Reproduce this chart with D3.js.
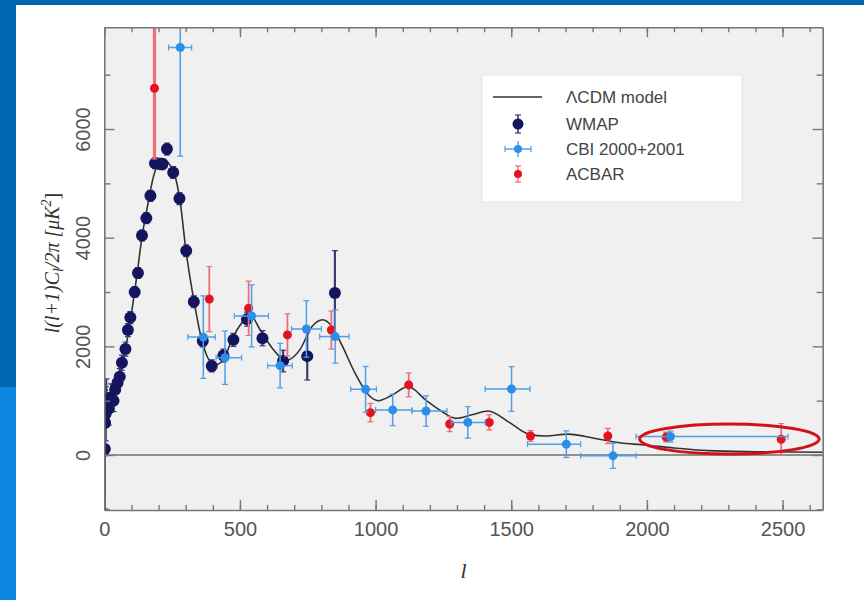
<!DOCTYPE html>
<html lang="en">
    <head>
        <meta charset="utf-8">
        <title>CMB power spectrum</title>
        <script type="text/javascript" src="https://d3js.org/d3.v7.min.js"></script>
        <style>
            body { margin: 0; background: #fff; }
            svg { display: block; }
        </style>
    </head>
    <body>
        <script>
            // ---- data ----
            // LCDM model curve
            const modelL = [2, 10, 20, 40, 60, 80, 100, 120, 140, 160, 180, 200, 220, 240, 260, 280, 300, 330, 360, 390, 410, 440, 470, 510, 540, 575, 620, 670, 720, 765, 805, 840, 875, 925, 975, 1010, 1060, 1120, 1185, 1245, 1295, 1355, 1415, 1490, 1565, 1625, 1710, 1810, 1905, 1980, 2100, 2225, 2400, 2648];
            const modelV = [900, 800, 850, 1100, 1500, 2000, 2600, 3300, 4050, 4600, 5100, 5380, 5450, 5350, 5150, 4650, 3800, 2850, 2100, 1720, 1660, 1760, 2120, 2450, 2560, 2300, 1960, 1740, 1930, 2360, 2490, 2360, 2030, 1500, 1100, 1000, 1100, 1260, 1010, 800, 675, 740, 810, 610, 385, 350, 385, 305, 220, 190, 130, 80, 60, 50];

            // WMAP
            const wmapL = [2, 3, 5, 7, 16, 25, 34, 40, 49, 57, 65, 78, 87, 96, 112, 124, 139, 155, 170, 187, 204, 214, 231, 254, 277, 302, 330, 363, 396, 439, 476, 526, 583, 659, 748, 850];
            const wmapV = [110, 590, 760, 1000, 850, 1060, 1000, 1200, 1330, 1440, 1700, 1950, 2300, 2530, 3000, 3350, 4040, 4360, 4770, 5370, 5360, 5350, 5630, 5200, 4720, 3760, 2820, 2100, 1640, 1830, 2120, 2500, 2150, 1730, 1820, 2980];
            const wmapErr = [1100, 600, 500, 400, 300, 250, 200, 180, 160, 150, 140, 130, 120, 110, 100, 100, 100, 100, 100, 100, 100, 100, 110, 110, 110, 110, 110, 110, 110, 120, 120, 130, 140, 200, 440, 780];

            // CBI 2000+2001
            const cbiL = [280, 365, 445, 543, 648, 745, 851, 963, 1063, 1186, 1340, 1501, 1703, 1875, 2087];
            const cbiV = [7500, 2170, 1790, 2560, 1645, 2320, 2180, 1210, 830, 810, 600, 1215, 200, -15, 340];
            const cbiErr = [2000, 760, 490, 570, 410, 520, 490, 420, 290, 280, 290, 410, 245, 230, 100];
            const cbiBinLo = [237, 308, 412, 479, 602, 690, 794, 908, 1000, 1134, 1279, 1404, 1560, 1756, 1960];
            const cbiBinHi = [322, 409, 506, 605, 693, 800, 902, 1003, 1134, 1263, 1404, 1569, 1756, 1960, 2520];

            // ACBAR
            const acbarL = [185, 387, 532, 675, 837, 981, 1122, 1273, 1419, 1571, 1856, 2071, 2495];
            const acbarV = [6750, 2870, 2700, 2210, 2300, 780, 1290, 570, 600, 350, 350, 330, 290];
            const acbarErr = [1300, 600, 500, 390, 350, 170, 220, 140, 140, 100, 140, 90, 290];

            // ticks
            const xMajor = [0, 500, 1000, 1500, 2000, 2500];
            const xMinor = d3.range(0, 2601, 100);
            const yMajor = [0, 2000, 4000, 6000];
            const yMinor = [-1000, 1000, 3000, 5000, 7000];

            const legendNames = ["\u039BCDM model", "WMAP", "CBI 2000+2001", "ACBAR"];

            // ---- page ----
            const w = 864, h = 600;
            const svg = d3.select("body").append("svg")
                .attr("width", w).attr("height", h);

            // slide decoration
            svg.append("rect").attr("x", 0).attr("y", 0).attr("width", w).attr("height", 5).attr("fill", "#0067b1");
            svg.append("rect").attr("x", 0).attr("y", 0).attr("width", 16).attr("height", 387).attr("fill", "#0067b1");
            svg.append("rect").attr("x", 0).attr("y", 387).attr("width", 16).attr("height", h - 387).attr("fill", "#0a85e0");

            const pLeft = 104.3, pRight = 822.7, pTop = 27.3, pBottom = 510;

            const xScale = d3.scaleLinear().domain([0, 2648]).range([pLeft, pRight]);
            const yScale = d3.scaleLinear().domain([-1012, 7872]).range([pBottom, pTop]);

            svg.append("rect")
                .attr("x", pLeft).attr("y", pTop)
                .attr("width", pRight - pLeft).attr("height", pBottom - pTop)
                .attr("fill", "#f0f0f0");

            svg.append("clipPath").attr("id", "clip")
                .append("rect")
                .attr("x", pLeft).attr("y", pTop)
                .attr("width", pRight - pLeft).attr("height", pBottom - pTop);

            const plot = svg.append("g").attr("clip-path", "url(#clip)");

            // zero line
            plot.append("line")
                .attr("x1", pLeft).attr("x2", pRight)
                .attr("y1", yScale(0)).attr("y2", yScale(0))
                .attr("stroke", "#707070").attr("stroke-width", 1.6);

            // model curve
            const model = modelL.map((l, i) => [l, modelV[i]]);
            plot.append("path")
                .datum(model)
                .attr("fill", "none")
                .attr("stroke", "#333")
                .attr("stroke-width", 1.6)
                .attr("d", d3.line()
                    .x(d => xScale(d[0]))
                    .y(d => yScale(d[1]))
                    .curve(d3.curveMonotoneX));

            // error bar helper
            function vbar(g, l, v, e, color, width, cap) {
                const x = xScale(l);
                g.append("line").attr("x1", x).attr("x2", x)
                    .attr("y1", yScale(v - e)).attr("y2", yScale(v + e))
                    .attr("stroke", color).attr("stroke-width", width);
                [v - e, v + e].forEach(yy => {
                    g.append("line").attr("x1", x - cap).attr("x2", x + cap)
                        .attr("y1", yScale(yy)).attr("y2", yScale(yy))
                        .attr("stroke", color).attr("stroke-width", 1.2);
                });
            }
            function hbar(g, lo, hi, v, color, width, cap) {
                const y = yScale(v);
                g.append("line").attr("x1", xScale(lo)).attr("x2", xScale(hi))
                    .attr("y1", y).attr("y2", y)
                    .attr("stroke", color).attr("stroke-width", width);
                [lo, hi].forEach(xx => {
                    g.append("line").attr("x1", xScale(xx)).attr("x2", xScale(xx))
                        .attr("y1", y - cap).attr("y2", y + cap)
                        .attr("stroke", color).attr("stroke-width", 1.2);
                });
            }

            // WMAP
            const gW = plot.append("g");
            wmapL.forEach((l, i) => vbar(gW, l, wmapV[i], wmapErr[i], "#3b3b72", 2.2, 3));
            gW.selectAll("circle")
                .data(wmapL)
                .enter().append("circle")
                .attr("cx", (d) => xScale(d))
                .attr("cy", (d, i) => yScale(wmapV[i]))
                .attr("r", 6)
                .attr("fill", "#15155f");

            // ACBAR (low-l bar sits behind the peak)
            const gA = plot.append("g");
            acbarL.forEach((l, i) => {
                const e = acbarErr[i];
                const up = i === 0 ? 4000 : e;
                const x = xScale(l);
                gA.append("line").attr("x1", x).attr("x2", x)
                    .attr("y1", yScale(acbarV[i] - e)).attr("y2", yScale(acbarV[i] + up))
                    .attr("stroke", "#ec6f7a").attr("stroke-width", i === 0 ? 3.2 : 1.8);
                [acbarV[i] - e, acbarV[i] + up].forEach(yy => {
                    gA.append("line").attr("x1", x - 3).attr("x2", x + 3)
                        .attr("y1", yScale(yy)).attr("y2", yScale(yy))
                        .attr("stroke", "#ec6f7a").attr("stroke-width", 1.2);
                });
            });

            // CBI
            const gC = plot.append("g");
            cbiL.forEach((l, i) => {
                const up = i === 0 ? 3000 : cbiErr[i];
                const x = xScale(l);
                gC.append("line").attr("x1", x).attr("x2", x)
                    .attr("y1", yScale(cbiV[i] - cbiErr[i])).attr("y2", yScale(cbiV[i] + up))
                    .attr("stroke", "#4f9ee6").attr("stroke-width", 1.5);
                [cbiV[i] - cbiErr[i], cbiV[i] + up].forEach(yy => {
                    gC.append("line").attr("x1", x - 3).attr("x2", x + 3)
                        .attr("y1", yScale(yy)).attr("y2", yScale(yy))
                        .attr("stroke", "#4f9ee6").attr("stroke-width", 1.2);
                });
                hbar(gC, cbiBinLo[i], cbiBinHi[i], cbiV[i], "#4f9ee6", 1.5, 3);
            });
            gC.selectAll("circle")
                .data(cbiL)
                .enter().append("circle")
                .attr("cx", (d) => xScale(d))
                .attr("cy", (d, i) => yScale(cbiV[i]))
                .attr("r", 4.5)
                .attr("fill", "#2b8fe9");

            gA.selectAll("circle")
                .data(acbarL)
                .enter().append("circle")
                .attr("cx", (d) => xScale(d))
                .attr("cy", (d, i) => yScale(acbarV[i]))
                .attr("r", 4.5)
                .attr("fill", "#e5121f");

            // axes
            const axisColor = "#777";
            function styleAxis(g, withDomain) {
                g.selectAll("line").attr("stroke", axisColor).attr("stroke-width", 1.4);
                g.select(".domain").attr("stroke", withDomain ? axisColor : "none").attr("stroke-width", 1.6);
                g.selectAll("text")
                    .attr("fill", "#555")
                    .attr("font-family", "'Liberation Sans', Arial, sans-serif")
                    .attr("font-size", "20px");
            }

            const gxb = svg.append("g").attr("transform", `translate(0,${pBottom})`)
                .call(d3.axisBottom(xScale).tickValues(xMinor).tickSize(-5).tickSizeOuter(0).tickFormat(""));
            styleAxis(gxb, true);
            const gxb2 = svg.append("g").attr("transform", `translate(0,${pBottom})`)
                .call(d3.axisBottom(xScale).tickValues(xMajor).tickSize(-10).tickSizeOuter(0).tickPadding(12).tickFormat(d3.format("d")));
            styleAxis(gxb2, false);

            const gxt = svg.append("g").attr("transform", `translate(0,${pTop})`)
                .call(d3.axisTop(xScale).tickValues(xMinor).tickSize(-5).tickSizeOuter(0).tickFormat(""));
            styleAxis(gxt, true);
            const gxt2 = svg.append("g").attr("transform", `translate(0,${pTop})`)
                .call(d3.axisTop(xScale).tickValues(xMajor).tickSize(-10).tickSizeOuter(0).tickFormat(""));
            styleAxis(gxt2, false);

            const gyl = svg.append("g").attr("transform", `translate(${pLeft},0)`)
                .call(d3.axisLeft(yScale).tickValues(yMinor).tickSize(-6).tickSizeOuter(0).tickFormat(""));
            styleAxis(gyl, true);
            const gyl2 = svg.append("g").attr("transform", `translate(${pLeft},0)`)
                .call(d3.axisLeft(yScale).tickValues(yMajor).tickSize(-10).tickSizeOuter(0).tickFormat(d3.format("d")));
            styleAxis(gyl2, false);
            gyl2.selectAll("text")
                .attr("transform", "rotate(-90)")
                .attr("x", 0).attr("y", -14).attr("dy", 0)
                .attr("text-anchor", "middle");

            const gyr = svg.append("g").attr("transform", `translate(${pRight},0)`)
                .call(d3.axisRight(yScale).tickValues(yMinor).tickSize(-6).tickSizeOuter(0).tickFormat(""));
            styleAxis(gyr, true);
            const gyr2 = svg.append("g").attr("transform", `translate(${pRight},0)`)
                .call(d3.axisRight(yScale).tickValues(yMajor).tickSize(-10).tickSizeOuter(0).tickFormat(""));
            styleAxis(gyr2, false);

            // axis titles
            svg.append("text")
                .attr("x", (pLeft + pRight) / 2).attr("y", 578)
                .attr("text-anchor", "middle")
                .attr("font-family", "'Liberation Serif', serif")
                .attr("font-style", "italic")
                .attr("font-size", "22px")
                .attr("fill", "#333")
                .text("l");

            const ylab = svg.append("text")
                .attr("transform", "translate(59,263) rotate(-90)")
                .attr("text-anchor", "middle")
                .attr("font-family", "'Liberation Serif', serif")
                .attr("font-style", "italic")
                .attr("font-size", "20px")
                .attr("fill", "#333");
            ylab.append("tspan").text("l(l+1)C");
            ylab.append("tspan").attr("font-size", "14px").attr("dy", 4).text("l");
            ylab.append("tspan").attr("dy", -4).text("/2\u03C0  [\u03BCK");
            ylab.append("tspan").attr("font-size", "14px").attr("dy", -8).text("2");
            ylab.append("tspan").attr("dy", 8).attr("font-style", "normal").text("]");

            // legend
            const lg = svg.append("g");
            lg.append("rect")
                .attr("x", 482).attr("y", 75).attr("width", 260).attr("height", 127)
                .attr("fill", "#fff").attr("stroke", "#e6e6e6");
            const rowY = [97, 124, 149, 174];
            lg.append("line").attr("x1", 493).attr("x2", 542)
                .attr("y1", rowY[0]).attr("y2", rowY[0])
                .attr("stroke", "#333").attr("stroke-width", 1.4);
            // WMAP marker
            lg.append("line").attr("x1", 518).attr("x2", 518).attr("y1", rowY[1] - 9).attr("y2", rowY[1] + 9)
                .attr("stroke", "#3b3b72").attr("stroke-width", 1.6);
            [rowY[1] - 9, rowY[1] + 9].forEach(yy => lg.append("line").attr("x1", 515).attr("x2", 521)
                .attr("y1", yy).attr("y2", yy).attr("stroke", "#3b3b72").attr("stroke-width", 1.2));
            lg.append("circle").attr("cx", 518).attr("cy", rowY[1]).attr("r", 5.5).attr("fill", "#15155f");
            // CBI marker
            lg.append("line").attr("x1", 518).attr("x2", 518).attr("y1", rowY[2] - 8).attr("y2", rowY[2] + 8)
                .attr("stroke", "#4f9ee6").attr("stroke-width", 1.4);
            lg.append("line").attr("x1", 505).attr("x2", 531).attr("y1", rowY[2]).attr("y2", rowY[2])
                .attr("stroke", "#4f9ee6").attr("stroke-width", 1.4);
            [505, 531].forEach(xx => lg.append("line").attr("x1", xx).attr("x2", xx)
                .attr("y1", rowY[2] - 3).attr("y2", rowY[2] + 3).attr("stroke", "#4f9ee6").attr("stroke-width", 1.2));
            lg.append("circle").attr("cx", 518).attr("cy", rowY[2]).attr("r", 4).attr("fill", "#2b8fe9");
            // ACBAR marker
            lg.append("line").attr("x1", 518).attr("x2", 518).attr("y1", rowY[3] - 8).attr("y2", rowY[3] + 8)
                .attr("stroke", "#ec6f7a").attr("stroke-width", 1.4);
            [rowY[3] - 8, rowY[3] + 8].forEach(yy => lg.append("line").attr("x1", 515).attr("x2", 521)
                .attr("y1", yy).attr("y2", yy).attr("stroke", "#ec6f7a").attr("stroke-width", 1.2));
            lg.append("circle").attr("cx", 518).attr("cy", rowY[3]).attr("r", 4).attr("fill", "#e5121f");

            lg.selectAll("text.lab")
                .data(legendNames)
                .enter().append("text")
                .attr("class", "lab")
                .attr("x", 566)
                .attr("y", (d, i) => rowY[i] + 6)
                .attr("font-family", "'Liberation Sans', Arial, sans-serif")
                .attr("font-size", "17px")
                .attr("fill", "#444")
                .text(d => d);

            // red highlight ellipse around the high-l points
            const ecL = 2304, ecV = 294;
            svg.append("ellipse")
                .attr("cx", xScale(ecL)).attr("cy", yScale(ecV))
                .attr("rx", xScale(ecL + 331) - xScale(ecL))
                .attr("ry", yScale(ecV) - yScale(ecV + 276))
                .attr("fill", "none")
                .attr("stroke", "#d0121a")
                .attr("stroke-width", 3);
        </script>
    </body>
</html>
